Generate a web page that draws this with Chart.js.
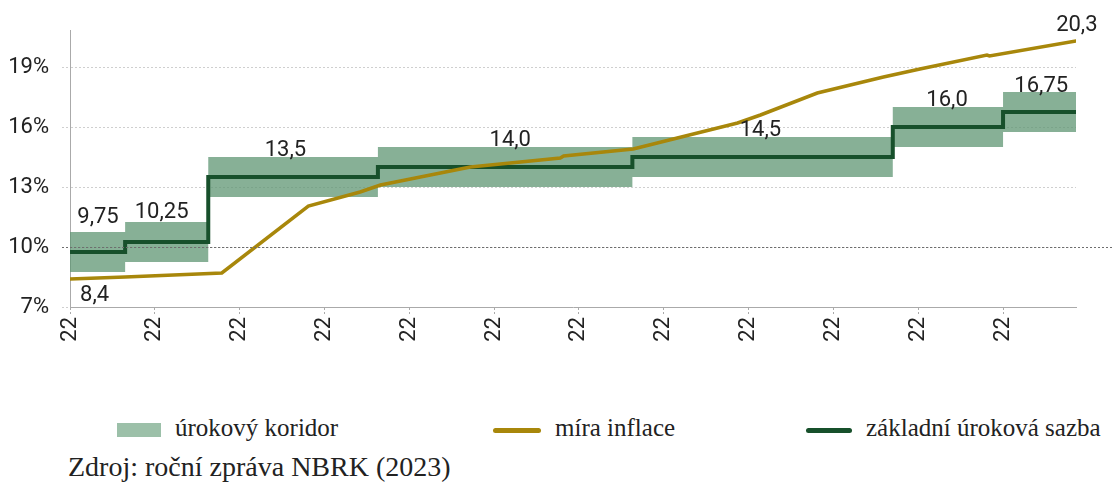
<!DOCTYPE html>
<html>
<head>
<meta charset="utf-8">
<script src="https://cdn.jsdelivr.net/npm/chart.js@4/dist/chart.umd.min.js"></script>
<style>
  body { margin: 0; background: #fff; }
  #wrap { position: relative; width: 1114px; height: 489px; }
  #chart { position: absolute; left: 0; top: 0; }
  .leg { position: absolute; font-family: "Liberation Serif", serif; font-size: 25px; color: #222; }
  .sw { position: absolute; }
</style>
</head>
<body>
<div id="wrap">
  <canvas id="chart" width="1114" height="350"></canvas>
  <div class="sw" style="left:117px;top:423px;width:44px;height:14px;background:#9cc0a9"></div>
  <div class="leg" style="left:175px;top:414px">úrokový koridor</div>
  <div class="sw" style="left:493px;top:428px;width:48px;height:5px;border-radius:3px;background:#a8870b"></div>
  <div class="leg" style="left:555px;top:414px">míra inflace</div>
  <div class="sw" style="left:806px;top:428px;width:46px;height:5px;border-radius:3px;background:#17502b"></div>
  <div class="leg" style="left:866px;top:414px">základní úroková sazba</div>
  <div class="leg" style="left:68px;top:451px;font-size:28px">Zdroj: roční zpráva NBRK (2023)</div>
</div>
<script>
// x in months from the first tick
const xTicks = [0, 1, 2, 3, 4, 5, 6, 7, 8, 9, 10, 11];
const tickLabels = ['22', '22', '22', '22', '22', '22', '22', '22', '22', '22', '22', '22'];
const yTicks = [7, 10, 13, 16, 19];

// base rate steps
const rateDates = [0, 0.65, 1.63, 3.63, 6.63, 9.70, 11.0, 11.86];
const rateValues = [9.75, 10.25, 13.5, 14.0, 14.5, 16.0, 16.75, 16.75];
const corridorLow = [8.75, 9.25, 12.5, 13.0, 13.5, 15.0, 15.75, 15.75];
const corridorHigh = [10.75, 11.25, 14.5, 15.0, 15.5, 17.0, 17.75, 17.75];

// inflation
const inflDates = [0, 0.65, 1.79, 2.81, 3.42, 3.66, 4.72, 5.78, 5.82, 6.64, 7.16, 7.87, 8.14, 8.81, 9.59, 10.02, 10.81, 10.84, 11.86];
const inflValues = [8.4, 8.5, 8.7, 12.05, 12.75, 13.1, 14.0, 14.45, 14.55, 14.9, 15.45, 16.2, 16.6, 17.7, 18.5, 18.9, 19.6, 19.55, 20.3];

// value labels
const labelTexts = ['9,75', '10,25', '13,5', '14,0', '14,5', '16,0', '16,75', '8,4', '20,3'];
const labelX = [0.33, 1.08, 2.54, 5.19, 8.14, 10.34, 11.45, 0.29, 11.87];
const labelY = [11.5, 11.75, 14.85, 15.35, 15.85, 17.35, 18.05, 7.6, 21.1];

const pts = (xs, ys) => xs.map((x, i) => ({ x: x, y: ys[i] }));

const extras = {
    id: 'extras',
    afterDraw(chart) {
        const ctx = chart.ctx;
        const x = chart.scales.x, y = chart.scales.y;
        ctx.save();
        // darker 10% line running to the edge
        ctx.strokeStyle = '#6e6e6e';
        ctx.lineWidth = 1;
        ctx.setLineDash([2, 2]);
        ctx.beginPath();
        const y10 = Math.round(y.getPixelForValue(10)) + 0.5;
        ctx.moveTo(chart.chartArea.left - 8, y10);
        ctx.lineTo(chart.width, y10);
        ctx.stroke();
        ctx.setLineDash([]);
        ctx.fillStyle = '#222';
        ctx.font = '22px Roboto';
        ctx.textAlign = 'center';
        ctx.textBaseline = 'middle';
        labelTexts.forEach((t, i) => {
            ctx.fillText(t, x.getPixelForValue(labelX[i]), y.getPixelForValue(labelY[i]));
        });
        ctx.restore();
    }
};

new Chart(document.getElementById('chart'), {
    type: 'line',
    data: {
        datasets: [{
            label: 'míra inflace',
            data: pts(inflDates, inflValues),
            borderColor: '#a8870b',
            borderWidth: 3.5,
            pointRadius: 0,
            borderCapStyle: 'round',
            order: 0
        }, {
            label: 'základní úroková sazba',
            data: pts(rateDates, rateValues),
            borderColor: '#17502b',
            borderWidth: 4,
            pointRadius: 0,
            stepped: 'before',
            order: 1
        }, {
            label: 'low',
            data: pts(rateDates, corridorLow),
            borderWidth: 0,
            pointRadius: 0,
            stepped: 'before',
            fill: false,
            order: 3
        }, {
            label: 'úrokový koridor',
            data: pts(rateDates, corridorHigh),
            borderWidth: 0,
            pointRadius: 0,
            stepped: 'before',
            backgroundColor: 'rgba(95,150,115,0.75)',
            fill: '-1',
            order: 2
        }]
    },
    options: {
        responsive: false,
        animation: false,
        layout: { padding: { top: 30, right: 38, left: 0, bottom: 0 } },
        plugins: { legend: { display: false }, tooltip: { enabled: false } },
        scales: {
            x: {
                type: 'linear',
                min: 0,
                max: 11.86,
                afterBuildTicks: axis => { axis.ticks = xTicks.map(v => ({ value: v })); },
                afterFit: scale => { scale.height = 43; },
                ticks: {
                    callback: (v, i) => tickLabels[i],
                    maxRotation: 90,
                    minRotation: 90,
                    padding: 2,
                    color: '#222',
                    font: { family: 'Roboto', size: 22 }
                },
                grid: { drawOnChartArea: false, tickLength: 8, color: '#aaa', tickBorderDash: [2, 2] },
                border: { color: '#aaa', dash: [2, 2] }
            },
            y: {
                min: 7,
                max: 20.85,
                afterBuildTicks: axis => { axis.ticks = yTicks.map(v => ({ value: v })); },
                afterFit: scale => { scale.width = 70; },
                ticks: {
                    callback: v => v + '%',
                    padding: 13,
                    color: '#222',
                    font: { family: 'Roboto', size: 22 }
                },
                grid: { color: '#cfcfcf', tickLength: 8, borderDash: [2, 2], tickBorderDash: [2, 2] },
                border: { color: '#aaa', dash: [2, 2] }
            }
        }
    },
    plugins: [extras]
});
</script>
</body>
</html>
